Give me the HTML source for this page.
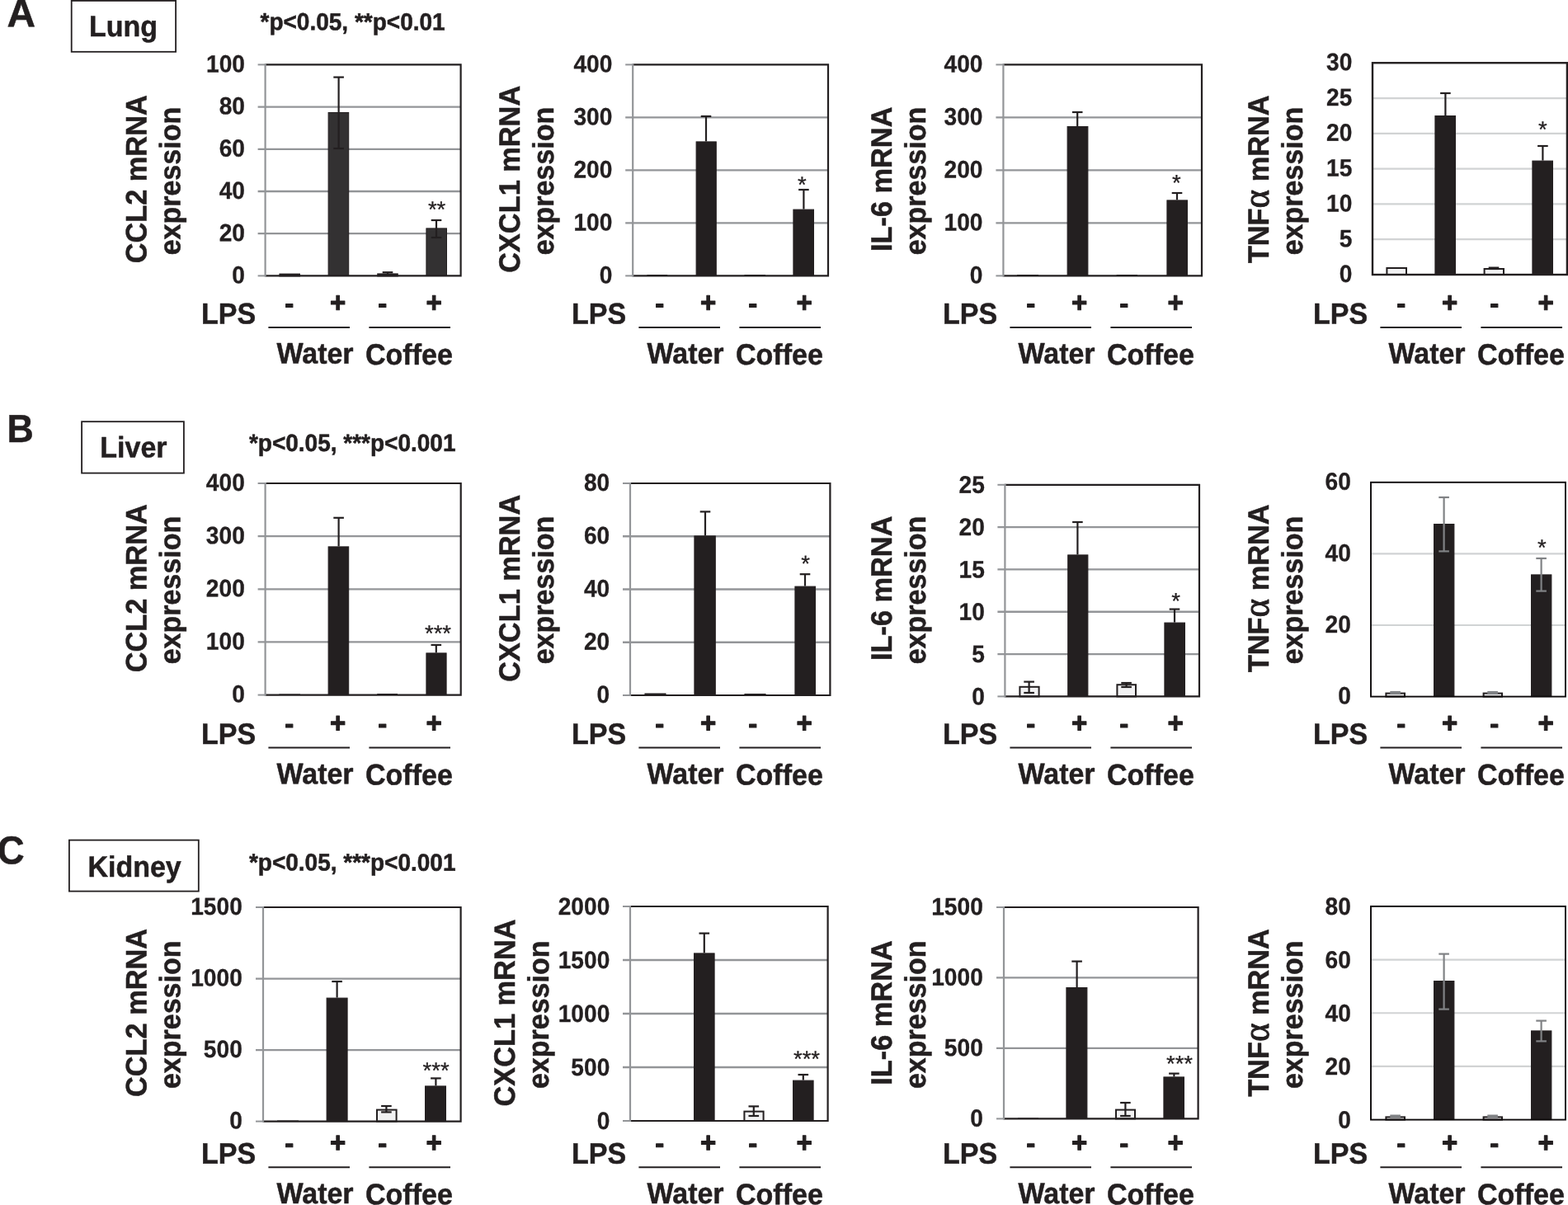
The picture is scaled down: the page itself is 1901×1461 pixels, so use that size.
<!DOCTYPE html>
<html lang="en"><head><meta charset="utf-8"><title>Figure</title>
<style>html,body{margin:0;padding:0;background:#fff;}svg{display:block;}text{font-family:"Liberation Sans",sans-serif;font-weight:bold;fill:#231f20;stroke:#231f20;stroke-width:0.5px;stroke-linejoin:round;}text{text-rendering:geometricPrecision;}text.n{stroke-width:0.3px;font-weight:normal;}text.tk{stroke-width:0.3px;}text.pm{stroke-width:1px;}.al{font-family:"Liberation Serif",serif;font-weight:normal;stroke-width:1px;}</style>
</head><body>
<svg width="1901" height="1461" viewBox="0 0 1901 1461" role="img" aria-label="Bar charts of cytokine mRNA expression in lung, liver and kidney">
<rect x="0" y="0" width="1901" height="1461" fill="#fff"/>
<text transform="translate(8.6 32.2) rotate(0.03) scale(1.05 1.05)" font-size="45.5">A</text>
<text transform="translate(8.6 536) rotate(0.03) scale(0.98 1.05)" font-size="45.5">B</text>
<text transform="translate(-3.2 1047.3) rotate(0.03) scale(1 1.05)" font-size="45.5">C</text>
<rect x="86.7" y="0.9" width="126.4" height="61.9" fill="#fff" stroke="#231f20" stroke-width="1.8"/>
<text transform="translate(149.6 43.9) rotate(0.03) scale(1 1.05)" font-size="34" text-anchor="middle">Lung</text>
<rect x="99.1" y="511.2" width="123.8" height="62.4" fill="#fff" stroke="#231f20" stroke-width="1.8"/>
<text transform="translate(161.9 554.5) rotate(0.03) scale(1 1.05)" font-size="34" text-anchor="middle">Liver</text>
<rect x="83.9" y="1018.6" width="156.9" height="62" fill="#fff" stroke="#231f20" stroke-width="1.8"/>
<text transform="translate(163.1 1063) rotate(0.03) scale(1 1.05)" font-size="34" text-anchor="middle">Kidney</text>
<text transform="translate(427.6 36.4) rotate(0.03) scale(1 1.05)" font-size="28" text-anchor="middle">*p&lt;0.05, **p&lt;0.01</text>
<text transform="translate(427.2 547) rotate(0.03) scale(1 1.05)" font-size="28" text-anchor="middle">*p&lt;0.05, ***p&lt;0.001</text>
<text transform="translate(427.2 1055.6) rotate(0.03) scale(1 1.05)" font-size="28" text-anchor="middle">*p&lt;0.05, ***p&lt;0.001</text>
<g id="A1">
<line x1="312.6" y1="283.2" x2="558.6" y2="283.2" stroke="#939598" stroke-width="2.3"/>
<line x1="312.6" y1="232" x2="558.6" y2="232" stroke="#939598" stroke-width="2.3"/>
<line x1="312.6" y1="180.8" x2="558.6" y2="180.8" stroke="#939598" stroke-width="2.3"/>
<line x1="312.6" y1="129.6" x2="558.6" y2="129.6" stroke="#939598" stroke-width="2.3"/>
<rect x="339.4" y="332.6" width="23.6" height="1.8" fill="#f1f1f2" stroke="#231f20" stroke-width="2"/>
<rect x="398.1" y="136.5" width="24.6" height="197.9" fill="#333132" stroke="#231f20" stroke-width="1"/>
<rect x="458.2" y="332.4" width="23.6" height="2" fill="#f1f1f2" stroke="#231f20" stroke-width="2"/>
<rect x="516.9" y="276.9" width="24.6" height="57.5" fill="#333132" stroke="#231f20" stroke-width="1"/>
<polyline points="321.6,78.4 558.6,78.4 558.6,334.4 321.6,334.4" fill="none" stroke="#231f20" stroke-width="2.2"/>
<line x1="321.6" y1="77.3" x2="321.6" y2="335.5" stroke="#939598" stroke-width="2.2"/>
<line x1="312.6" y1="78.4" x2="322.6" y2="78.4" stroke="#939598" stroke-width="2"/>
<line x1="312.6" y1="334.4" x2="321.6" y2="334.4" stroke="#939598" stroke-width="2"/>
<line x1="410.6" y1="93.6" x2="410.6" y2="180" stroke="#231f20" stroke-width="2.2"/>
<line x1="404.3" y1="93.6" x2="416.9" y2="93.6" stroke="#231f20" stroke-width="2.2"/>
<line x1="404.3" y1="180" x2="416.9" y2="180" stroke="#231f20" stroke-width="2.2"/>
<line x1="529" y1="267" x2="529" y2="288" stroke="#231f20" stroke-width="2.2"/>
<line x1="522.7" y1="267" x2="535.3" y2="267" stroke="#231f20" stroke-width="2.2"/>
<line x1="522.7" y1="288" x2="535.3" y2="288" stroke="#231f20" stroke-width="2.2"/>
<line x1="470" y1="330.2" x2="470" y2="333" stroke="#231f20" stroke-width="2.2"/>
<line x1="463.7" y1="330.2" x2="476.3" y2="330.2" stroke="#231f20" stroke-width="2.2"/>
<line x1="463.7" y1="333" x2="476.3" y2="333" stroke="#231f20" stroke-width="2.2"/>
<text transform="translate(297 343.4) rotate(0.03) scale(0.97 1.02)" font-size="29" text-anchor="end" class="tk">0</text>
<text transform="translate(297 292.2) rotate(0.03) scale(0.97 1.02)" font-size="29" text-anchor="end" class="tk">20</text>
<text transform="translate(297 241) rotate(0.03) scale(0.97 1.02)" font-size="29" text-anchor="end" class="tk">40</text>
<text transform="translate(297 189.8) rotate(0.03) scale(0.97 1.02)" font-size="29" text-anchor="end" class="tk">60</text>
<text transform="translate(297 138.6) rotate(0.03) scale(0.97 1.02)" font-size="29" text-anchor="end" class="tk">80</text>
<text transform="translate(297 87.4) rotate(0.03) scale(0.97 1.02)" font-size="29" text-anchor="end" class="tk">100</text>
<text transform="translate(529.6 263.3) rotate(0.03)" font-size="27.5" text-anchor="middle" font-weight="normal" class="n">**</text>
<text transform="translate(177.5 217.3) rotate(-89.97) scale(1.01 1.05)" font-size="34" text-anchor="middle">CCL2 mRNA</text>
<text transform="translate(218.5 219.6) rotate(-89.97) scale(1 1.05)" font-size="34" text-anchor="middle">expression</text>
<text transform="translate(244.1 392.4) rotate(0.03) scale(1 1.05)" font-size="34">LPS</text>
<text transform="translate(345.3 379.5) rotate(0.03) scale(1 1.05)" font-size="33" class="pm">-</text>
<text transform="translate(399.9 378.6) rotate(0.03) scale(1 1.05)" font-size="33" class="pm">+</text>
<text transform="translate(458.3 379.5) rotate(0.03) scale(1 1.05)" font-size="33" class="pm">-</text>
<text transform="translate(516.5 378.6) rotate(0.03) scale(1 1.05)" font-size="33" class="pm">+</text>
<line x1="325.4" y1="397" x2="424" y2="397" stroke="#231f20" stroke-width="2"/>
<line x1="447.4" y1="397" x2="546" y2="397" stroke="#231f20" stroke-width="2"/>
<text transform="translate(335.4 440.6) rotate(0.03) scale(1 1.05)" font-size="34">Water</text>
<text transform="translate(443 442) rotate(0.03) scale(1 1.05)" font-size="34">Coffee</text>
</g>
<g id="A2">
<line x1="758.2" y1="270.4" x2="1004" y2="270.4" stroke="#939598" stroke-width="2.3"/>
<line x1="758.2" y1="206.4" x2="1004" y2="206.4" stroke="#939598" stroke-width="2.3"/>
<line x1="758.2" y1="142.4" x2="1004" y2="142.4" stroke="#939598" stroke-width="2.3"/>
<rect x="784.4" y="333" width="24.8" height="1.4" fill="#231f20"/>
<rect x="844.1" y="171.9" width="24.2" height="162.5" fill="#231f20" stroke="#231f20" stroke-width="1"/>
<rect x="902.4" y="333" width="25.6" height="1.4" fill="#231f20"/>
<rect x="961.9" y="254.1" width="24.6" height="80.3" fill="#231f20" stroke="#231f20" stroke-width="1"/>
<polyline points="767.2,78.4 1004,78.4 1004,334.4 767.2,334.4" fill="none" stroke="#231f20" stroke-width="2.2"/>
<line x1="767.2" y1="77.3" x2="767.2" y2="335.5" stroke="#939598" stroke-width="2.2"/>
<line x1="758.2" y1="78.4" x2="768.2" y2="78.4" stroke="#939598" stroke-width="2"/>
<line x1="758.2" y1="334.4" x2="767.2" y2="334.4" stroke="#939598" stroke-width="2"/>
<line x1="856" y1="141" x2="856" y2="171.4" stroke="#231f20" stroke-width="2.2"/>
<line x1="849.7" y1="141" x2="862.3" y2="141" stroke="#231f20" stroke-width="2.2"/>
<line x1="974.4" y1="230" x2="974.4" y2="253.6" stroke="#231f20" stroke-width="2.2"/>
<line x1="968.1" y1="230" x2="980.7" y2="230" stroke="#231f20" stroke-width="2.2"/>
<text transform="translate(742.4 343.4) rotate(0.03) scale(0.97 1.02)" font-size="29" text-anchor="end" class="tk">0</text>
<text transform="translate(742.4 279.4) rotate(0.03) scale(0.97 1.02)" font-size="29" text-anchor="end" class="tk">100</text>
<text transform="translate(742.4 215.4) rotate(0.03) scale(0.97 1.02)" font-size="29" text-anchor="end" class="tk">200</text>
<text transform="translate(742.4 151.4) rotate(0.03) scale(0.97 1.02)" font-size="29" text-anchor="end" class="tk">300</text>
<text transform="translate(742.4 87.4) rotate(0.03) scale(0.97 1.02)" font-size="29" text-anchor="end" class="tk">400</text>
<text transform="translate(972.4 233.3) rotate(0.03)" font-size="27.5" text-anchor="middle" font-weight="normal" class="n">*</text>
<text transform="translate(630 217.3) rotate(-89.97) scale(1.01 1.05)" font-size="34" text-anchor="middle">CXCL1 mRNA</text>
<text transform="translate(671 219.6) rotate(-89.97) scale(1 1.05)" font-size="34" text-anchor="middle">expression</text>
<text transform="translate(693.1 392.4) rotate(0.03) scale(1 1.05)" font-size="34">LPS</text>
<text transform="translate(794.3 379.5) rotate(0.03) scale(1 1.05)" font-size="33" class="pm">-</text>
<text transform="translate(848.9 378.6) rotate(0.03) scale(1 1.05)" font-size="33" class="pm">+</text>
<text transform="translate(907.3 379.5) rotate(0.03) scale(1 1.05)" font-size="33" class="pm">-</text>
<text transform="translate(965.5 378.6) rotate(0.03) scale(1 1.05)" font-size="33" class="pm">+</text>
<line x1="774.4" y1="397" x2="873" y2="397" stroke="#231f20" stroke-width="2"/>
<line x1="896.4" y1="397" x2="995" y2="397" stroke="#231f20" stroke-width="2"/>
<text transform="translate(784.4 440.6) rotate(0.03) scale(1 1.05)" font-size="34">Water</text>
<text transform="translate(892 442) rotate(0.03) scale(1 1.05)" font-size="34">Coffee</text>
</g>
<g id="A3">
<line x1="1207.4" y1="270.4" x2="1457" y2="270.4" stroke="#939598" stroke-width="2.3"/>
<line x1="1207.4" y1="206.4" x2="1457" y2="206.4" stroke="#939598" stroke-width="2.3"/>
<line x1="1207.4" y1="142.4" x2="1457" y2="142.4" stroke="#939598" stroke-width="2.3"/>
<rect x="1233" y="333" width="26" height="1.4" fill="#231f20"/>
<rect x="1294.1" y="153.5" width="24.8" height="180.9" fill="#231f20" stroke="#231f20" stroke-width="1"/>
<rect x="1353.6" y="333" width="25.4" height="1.4" fill="#231f20"/>
<rect x="1414.9" y="242.9" width="24.6" height="91.5" fill="#231f20" stroke="#231f20" stroke-width="1"/>
<polyline points="1216.4,78.4 1457,78.4 1457,334.4 1216.4,334.4" fill="none" stroke="#231f20" stroke-width="2.2"/>
<line x1="1216.4" y1="77.3" x2="1216.4" y2="335.5" stroke="#939598" stroke-width="2.2"/>
<line x1="1207.4" y1="78.4" x2="1217.4" y2="78.4" stroke="#939598" stroke-width="2"/>
<line x1="1207.4" y1="334.4" x2="1216.4" y2="334.4" stroke="#939598" stroke-width="2"/>
<line x1="1306.2" y1="136" x2="1306.2" y2="153" stroke="#231f20" stroke-width="2.2"/>
<line x1="1299.9" y1="136" x2="1312.5" y2="136" stroke="#231f20" stroke-width="2.2"/>
<line x1="1427" y1="234" x2="1427" y2="242.4" stroke="#231f20" stroke-width="2.2"/>
<line x1="1420.7" y1="234" x2="1433.3" y2="234" stroke="#231f20" stroke-width="2.2"/>
<text transform="translate(1191.5 343.4) rotate(0.03) scale(0.97 1.02)" font-size="29" text-anchor="end" class="tk">0</text>
<text transform="translate(1191.5 279.4) rotate(0.03) scale(0.97 1.02)" font-size="29" text-anchor="end" class="tk">100</text>
<text transform="translate(1191.5 215.4) rotate(0.03) scale(0.97 1.02)" font-size="29" text-anchor="end" class="tk">200</text>
<text transform="translate(1191.5 151.4) rotate(0.03) scale(0.97 1.02)" font-size="29" text-anchor="end" class="tk">300</text>
<text transform="translate(1191.5 87.4) rotate(0.03) scale(0.97 1.02)" font-size="29" text-anchor="end" class="tk">400</text>
<text transform="translate(1426.4 231) rotate(0.03)" font-size="27.5" text-anchor="middle" font-weight="normal" class="n">*</text>
<text transform="translate(1081 217.3) rotate(-89.97) scale(1.01 1.05)" font-size="34" text-anchor="middle">IL-6 mRNA</text>
<text transform="translate(1122 219.6) rotate(-89.97) scale(1 1.05)" font-size="34" text-anchor="middle">expression</text>
<text transform="translate(1143.1 392.4) rotate(0.03) scale(1 1.05)" font-size="34">LPS</text>
<text transform="translate(1244.3 379.5) rotate(0.03) scale(1 1.05)" font-size="33" class="pm">-</text>
<text transform="translate(1298.9 378.6) rotate(0.03) scale(1 1.05)" font-size="33" class="pm">+</text>
<text transform="translate(1357.3 379.5) rotate(0.03) scale(1 1.05)" font-size="33" class="pm">-</text>
<text transform="translate(1415.5 378.6) rotate(0.03) scale(1 1.05)" font-size="33" class="pm">+</text>
<line x1="1224.4" y1="397" x2="1323" y2="397" stroke="#231f20" stroke-width="2"/>
<line x1="1346.4" y1="397" x2="1445" y2="397" stroke="#231f20" stroke-width="2"/>
<text transform="translate(1234.4 440.6) rotate(0.03) scale(1 1.05)" font-size="34">Water</text>
<text transform="translate(1342 442) rotate(0.03) scale(1 1.05)" font-size="34">Coffee</text>
</g>
<g id="A4">
<line x1="1664" y1="290.21" x2="1899.9" y2="290.21" stroke="#d1d3d4" stroke-width="2.2"/>
<line x1="1664" y1="247.42" x2="1899.9" y2="247.42" stroke="#d1d3d4" stroke-width="2.2"/>
<line x1="1664" y1="204.62" x2="1899.9" y2="204.62" stroke="#d1d3d4" stroke-width="2.2"/>
<line x1="1664" y1="161.83" x2="1899.9" y2="161.83" stroke="#d1d3d4" stroke-width="2.2"/>
<line x1="1664" y1="119.04" x2="1899.9" y2="119.04" stroke="#d1d3d4" stroke-width="2.2"/>
<rect x="1681.4" y="325" width="23.6" height="8" fill="#f1f1f2" stroke="#231f20" stroke-width="2"/>
<rect x="1739.9" y="140.5" width="24.6" height="192.5" fill="#231f20" stroke="#231f20" stroke-width="1"/>
<rect x="1799.6" y="326" width="23.4" height="7" fill="#f1f1f2" stroke="#231f20" stroke-width="2"/>
<rect x="1857.9" y="195.1" width="24.6" height="137.9" fill="#231f20" stroke="#231f20" stroke-width="1"/>
<rect x="1664" y="76.25" width="235.9" height="256.75" fill="none" stroke="#231f20" stroke-width="2.4"/>
<line x1="1752.4" y1="113" x2="1752.4" y2="140" stroke="#231f20" stroke-width="2.2"/>
<line x1="1746.1" y1="113" x2="1758.7" y2="113" stroke="#231f20" stroke-width="2.2"/>
<line x1="1870.4" y1="177" x2="1870.4" y2="194.6" stroke="#231f20" stroke-width="2.2"/>
<line x1="1864.1" y1="177" x2="1876.7" y2="177" stroke="#231f20" stroke-width="2.2"/>
<line x1="1811" y1="324.6" x2="1811" y2="326" stroke="#231f20" stroke-width="2.2"/>
<line x1="1804.7" y1="324.6" x2="1817.3" y2="324.6" stroke="#231f20" stroke-width="2.2"/>
<line x1="1804.7" y1="326" x2="1817.3" y2="326" stroke="#231f20" stroke-width="2.2"/>
<text transform="translate(1639.4 342) rotate(0.03) scale(0.97 1.02)" font-size="29" text-anchor="end" class="tk">0</text>
<text transform="translate(1639.4 299.21) rotate(0.03) scale(0.97 1.02)" font-size="29" text-anchor="end" class="tk">5</text>
<text transform="translate(1639.4 256.42) rotate(0.03) scale(0.97 1.02)" font-size="29" text-anchor="end" class="tk">10</text>
<text transform="translate(1639.4 213.62) rotate(0.03) scale(0.97 1.02)" font-size="29" text-anchor="end" class="tk">15</text>
<text transform="translate(1639.4 170.83) rotate(0.03) scale(0.97 1.02)" font-size="29" text-anchor="end" class="tk">20</text>
<text transform="translate(1639.4 128.04) rotate(0.03) scale(0.97 1.02)" font-size="29" text-anchor="end" class="tk">25</text>
<text transform="translate(1639.4 85.25) rotate(0.03) scale(0.97 1.02)" font-size="29" text-anchor="end" class="tk">30</text>
<text transform="translate(1870.4 166.3) rotate(0.03)" font-size="27.5" text-anchor="middle" font-weight="normal" class="n">*</text>
<text transform="translate(1538 217.3) rotate(-89.97) scale(1.01 1.05)" font-size="34" text-anchor="middle">TNF<tspan class="al" font-size="42.5">α</tspan> mRNA</text>
<text transform="translate(1579 219.6) rotate(-89.97) scale(1 1.05)" font-size="34" text-anchor="middle">expression</text>
<text transform="translate(1592.1 392.4) rotate(0.03) scale(1 1.05)" font-size="34">LPS</text>
<text transform="translate(1693.3 379.5) rotate(0.03) scale(1 1.05)" font-size="33" class="pm">-</text>
<text transform="translate(1747.9 378.6) rotate(0.03) scale(1 1.05)" font-size="33" class="pm">+</text>
<text transform="translate(1806.3 379.5) rotate(0.03) scale(1 1.05)" font-size="33" class="pm">-</text>
<text transform="translate(1864.5 378.6) rotate(0.03) scale(1 1.05)" font-size="33" class="pm">+</text>
<line x1="1673.4" y1="397" x2="1772" y2="397" stroke="#231f20" stroke-width="2"/>
<line x1="1795.4" y1="397" x2="1894" y2="397" stroke="#231f20" stroke-width="2"/>
<text transform="translate(1683.4 440.6) rotate(0.03) scale(1 1.05)" font-size="34">Water</text>
<text transform="translate(1791 442) rotate(0.03) scale(1 1.05)" font-size="34">Coffee</text>
</g>
<g id="B1">
<line x1="312.6" y1="778.45" x2="558.7" y2="778.45" stroke="#939598" stroke-width="2.3"/>
<line x1="312.6" y1="714.3" x2="558.7" y2="714.3" stroke="#939598" stroke-width="2.3"/>
<line x1="312.6" y1="650.15" x2="558.7" y2="650.15" stroke="#939598" stroke-width="2.3"/>
<rect x="338.4" y="841.5" width="25.6" height="1.1" fill="#231f20"/>
<rect x="398.1" y="662.9" width="24.6" height="179.7" fill="#231f20" stroke="#231f20" stroke-width="1"/>
<rect x="457.2" y="841" width="24.8" height="1.6" fill="#231f20"/>
<rect x="516.9" y="791.9" width="24.2" height="50.7" fill="#231f20" stroke="#231f20" stroke-width="1"/>
<polyline points="321.6,586 558.7,586 558.7,842.6 321.6,842.6" fill="none" stroke="#231f20" stroke-width="2.2"/>
<line x1="321.6" y1="584.9" x2="321.6" y2="843.7" stroke="#939598" stroke-width="2.2"/>
<line x1="312.6" y1="586" x2="322.6" y2="586" stroke="#939598" stroke-width="2"/>
<line x1="312.6" y1="842.6" x2="321.6" y2="842.6" stroke="#939598" stroke-width="2"/>
<line x1="410.6" y1="627.8" x2="410.6" y2="662.4" stroke="#231f20" stroke-width="2.2"/>
<line x1="404.3" y1="627.8" x2="416.9" y2="627.8" stroke="#231f20" stroke-width="2.2"/>
<line x1="528.8" y1="782" x2="528.8" y2="791.4" stroke="#231f20" stroke-width="2.2"/>
<line x1="522.5" y1="782" x2="535.1" y2="782" stroke="#231f20" stroke-width="2.2"/>
<text transform="translate(296.8 851.6) rotate(0.03) scale(0.97 1.02)" font-size="29" text-anchor="end" class="tk">0</text>
<text transform="translate(296.8 787.45) rotate(0.03) scale(0.97 1.02)" font-size="29" text-anchor="end" class="tk">100</text>
<text transform="translate(296.8 723.3) rotate(0.03) scale(0.97 1.02)" font-size="29" text-anchor="end" class="tk">200</text>
<text transform="translate(296.8 659.15) rotate(0.03) scale(0.97 1.02)" font-size="29" text-anchor="end" class="tk">300</text>
<text transform="translate(296.8 595) rotate(0.03) scale(0.97 1.02)" font-size="29" text-anchor="end" class="tk">400</text>
<text transform="translate(531 777.3) rotate(0.03)" font-size="27.5" text-anchor="middle" font-weight="normal" class="n">***</text>
<text transform="translate(177.5 713.3) rotate(-89.97) scale(1.01 1.05)" font-size="34" text-anchor="middle">CCL2 mRNA</text>
<text transform="translate(218.5 715.6) rotate(-89.97) scale(1 1.05)" font-size="34" text-anchor="middle">expression</text>
<text transform="translate(244.1 902) rotate(0.03) scale(1 1.05)" font-size="34">LPS</text>
<text transform="translate(345.3 889.1) rotate(0.03) scale(1 1.05)" font-size="33" class="pm">-</text>
<text transform="translate(399.9 888.2) rotate(0.03) scale(1 1.05)" font-size="33" class="pm">+</text>
<text transform="translate(458.3 889.1) rotate(0.03) scale(1 1.05)" font-size="33" class="pm">-</text>
<text transform="translate(516.5 888.2) rotate(0.03) scale(1 1.05)" font-size="33" class="pm">+</text>
<line x1="325.4" y1="906.6" x2="424" y2="906.6" stroke="#231f20" stroke-width="2"/>
<line x1="447.4" y1="906.6" x2="546" y2="906.6" stroke="#231f20" stroke-width="2"/>
<text transform="translate(335.4 950.2) rotate(0.03) scale(1 1.05)" font-size="34">Water</text>
<text transform="translate(443 951.6) rotate(0.03) scale(1 1.05)" font-size="34">Coffee</text>
</g>
<g id="B2">
<line x1="755" y1="778.75" x2="1006.4" y2="778.75" stroke="#939598" stroke-width="2.3"/>
<line x1="755" y1="714.5" x2="1006.4" y2="714.5" stroke="#939598" stroke-width="2.3"/>
<line x1="755" y1="650.25" x2="1006.4" y2="650.25" stroke="#939598" stroke-width="2.3"/>
<rect x="781.4" y="840.5" width="26.2" height="2.5" fill="#231f20"/>
<rect x="841.9" y="649.9" width="25.4" height="193.1" fill="#231f20" stroke="#231f20" stroke-width="1"/>
<rect x="902.4" y="841" width="26.2" height="2" fill="#231f20"/>
<rect x="963.9" y="711.1" width="24.6" height="131.9" fill="#231f20" stroke="#231f20" stroke-width="1"/>
<polyline points="764,586 1006.4,586 1006.4,843 764,843" fill="none" stroke="#231f20" stroke-width="2.2"/>
<line x1="764" y1="584.9" x2="764" y2="844.1" stroke="#939598" stroke-width="2.2"/>
<line x1="755" y1="586" x2="765" y2="586" stroke="#939598" stroke-width="2"/>
<line x1="755" y1="843" x2="764" y2="843" stroke="#939598" stroke-width="2"/>
<line x1="855" y1="620.4" x2="855" y2="649.4" stroke="#231f20" stroke-width="2.2"/>
<line x1="848.7" y1="620.4" x2="861.3" y2="620.4" stroke="#231f20" stroke-width="2.2"/>
<line x1="976" y1="696.2" x2="976" y2="710.6" stroke="#231f20" stroke-width="2.2"/>
<line x1="969.7" y1="696.2" x2="982.3" y2="696.2" stroke="#231f20" stroke-width="2.2"/>
<text transform="translate(739.2 852) rotate(0.03) scale(0.97 1.02)" font-size="29" text-anchor="end" class="tk">0</text>
<text transform="translate(739.2 787.75) rotate(0.03) scale(0.97 1.02)" font-size="29" text-anchor="end" class="tk">20</text>
<text transform="translate(739.2 723.5) rotate(0.03) scale(0.97 1.02)" font-size="29" text-anchor="end" class="tk">40</text>
<text transform="translate(739.2 659.25) rotate(0.03) scale(0.97 1.02)" font-size="29" text-anchor="end" class="tk">60</text>
<text transform="translate(739.2 595) rotate(0.03) scale(0.97 1.02)" font-size="29" text-anchor="end" class="tk">80</text>
<text transform="translate(976.6 692.7) rotate(0.03)" font-size="27.5" text-anchor="middle" font-weight="normal" class="n">*</text>
<text transform="translate(630 713.3) rotate(-89.97) scale(1.01 1.05)" font-size="34" text-anchor="middle">CXCL1 mRNA</text>
<text transform="translate(671 715.6) rotate(-89.97) scale(1 1.05)" font-size="34" text-anchor="middle">expression</text>
<text transform="translate(693.1 902) rotate(0.03) scale(1 1.05)" font-size="34">LPS</text>
<text transform="translate(794.3 889.1) rotate(0.03) scale(1 1.05)" font-size="33" class="pm">-</text>
<text transform="translate(848.9 888.2) rotate(0.03) scale(1 1.05)" font-size="33" class="pm">+</text>
<text transform="translate(907.3 889.1) rotate(0.03) scale(1 1.05)" font-size="33" class="pm">-</text>
<text transform="translate(965.5 888.2) rotate(0.03) scale(1 1.05)" font-size="33" class="pm">+</text>
<line x1="774.4" y1="906.6" x2="873" y2="906.6" stroke="#231f20" stroke-width="2"/>
<line x1="896.4" y1="906.6" x2="995" y2="906.6" stroke="#231f20" stroke-width="2"/>
<text transform="translate(784.4 950.2) rotate(0.03) scale(1 1.05)" font-size="34">Water</text>
<text transform="translate(892 951.6) rotate(0.03) scale(1 1.05)" font-size="34">Coffee</text>
</g>
<g id="B3">
<line x1="1209.4" y1="793.08" x2="1454" y2="793.08" stroke="#939598" stroke-width="2.3"/>
<line x1="1209.4" y1="741.76" x2="1454" y2="741.76" stroke="#939598" stroke-width="2.3"/>
<line x1="1209.4" y1="690.44" x2="1454" y2="690.44" stroke="#939598" stroke-width="2.3"/>
<line x1="1209.4" y1="639.12" x2="1454" y2="639.12" stroke="#939598" stroke-width="2.3"/>
<rect x="1236.4" y="832.8" width="23.2" height="11.6" fill="#f1f1f2" stroke="#231f20" stroke-width="2"/>
<rect x="1294.7" y="672.9" width="24.2" height="171.5" fill="#231f20" stroke="#231f20" stroke-width="1"/>
<rect x="1354.4" y="830.2" width="22.6" height="14.2" fill="#f1f1f2" stroke="#231f20" stroke-width="2"/>
<rect x="1411.9" y="755.1" width="24.6" height="89.3" fill="#231f20" stroke="#231f20" stroke-width="1"/>
<polyline points="1218.4,587.8 1454,587.8 1454,844.4 1218.4,844.4" fill="none" stroke="#231f20" stroke-width="2.2"/>
<line x1="1218.4" y1="586.7" x2="1218.4" y2="845.5" stroke="#939598" stroke-width="2.2"/>
<line x1="1209.4" y1="587.8" x2="1219.4" y2="587.8" stroke="#939598" stroke-width="2"/>
<line x1="1209.4" y1="844.4" x2="1218.4" y2="844.4" stroke="#939598" stroke-width="2"/>
<line x1="1247.6" y1="826.6" x2="1247.6" y2="840" stroke="#231f20" stroke-width="2.2"/>
<line x1="1241.3" y1="826.6" x2="1253.9" y2="826.6" stroke="#231f20" stroke-width="2.2"/>
<line x1="1241.3" y1="840" x2="1253.9" y2="840" stroke="#231f20" stroke-width="2.2"/>
<line x1="1306.4" y1="633" x2="1306.4" y2="672.4" stroke="#231f20" stroke-width="2.2"/>
<line x1="1300.1" y1="633" x2="1312.7" y2="633" stroke="#231f20" stroke-width="2.2"/>
<line x1="1365.6" y1="828" x2="1365.6" y2="833" stroke="#231f20" stroke-width="2.2"/>
<line x1="1359.3" y1="828" x2="1371.9" y2="828" stroke="#231f20" stroke-width="2.2"/>
<line x1="1359.3" y1="833" x2="1371.9" y2="833" stroke="#231f20" stroke-width="2.2"/>
<line x1="1424" y1="738.6" x2="1424" y2="754.6" stroke="#231f20" stroke-width="2.2"/>
<line x1="1417.7" y1="738.6" x2="1430.3" y2="738.6" stroke="#231f20" stroke-width="2.2"/>
<text transform="translate(1193.8 854.4) rotate(0.03) scale(0.97 1.02)" font-size="29" text-anchor="end" class="tk">0</text>
<text transform="translate(1193.8 803.08) rotate(0.03) scale(0.97 1.02)" font-size="29" text-anchor="end" class="tk">5</text>
<text transform="translate(1193.8 751.76) rotate(0.03) scale(0.97 1.02)" font-size="29" text-anchor="end" class="tk">10</text>
<text transform="translate(1193.8 700.44) rotate(0.03) scale(0.97 1.02)" font-size="29" text-anchor="end" class="tk">15</text>
<text transform="translate(1193.8 649.12) rotate(0.03) scale(0.97 1.02)" font-size="29" text-anchor="end" class="tk">20</text>
<text transform="translate(1193.8 597.8) rotate(0.03) scale(0.97 1.02)" font-size="29" text-anchor="end" class="tk">25</text>
<text transform="translate(1425.6 738) rotate(0.03)" font-size="27.5" text-anchor="middle" font-weight="normal" class="n">*</text>
<text transform="translate(1081 713.3) rotate(-89.97) scale(1.01 1.05)" font-size="34" text-anchor="middle">IL-6 mRNA</text>
<text transform="translate(1122 715.6) rotate(-89.97) scale(1 1.05)" font-size="34" text-anchor="middle">expression</text>
<text transform="translate(1143.1 902) rotate(0.03) scale(1 1.05)" font-size="34">LPS</text>
<text transform="translate(1244.3 889.1) rotate(0.03) scale(1 1.05)" font-size="33" class="pm">-</text>
<text transform="translate(1298.9 888.2) rotate(0.03) scale(1 1.05)" font-size="33" class="pm">+</text>
<text transform="translate(1357.3 889.1) rotate(0.03) scale(1 1.05)" font-size="33" class="pm">-</text>
<text transform="translate(1415.5 888.2) rotate(0.03) scale(1 1.05)" font-size="33" class="pm">+</text>
<line x1="1224.4" y1="906.6" x2="1323" y2="906.6" stroke="#231f20" stroke-width="2"/>
<line x1="1346.4" y1="906.6" x2="1445" y2="906.6" stroke="#231f20" stroke-width="2"/>
<text transform="translate(1234.4 950.2) rotate(0.03) scale(1 1.05)" font-size="34">Water</text>
<text transform="translate(1342 951.6) rotate(0.03) scale(1 1.05)" font-size="34">Coffee</text>
</g>
<g id="B4">
<line x1="1662" y1="758" x2="1897.95" y2="758" stroke="#d1d3d4" stroke-width="2.2"/>
<line x1="1662" y1="671.4" x2="1897.95" y2="671.4" stroke="#d1d3d4" stroke-width="2.2"/>
<rect x="1680.4" y="840.6" width="22.6" height="4" fill="#f1f1f2" stroke="#231f20" stroke-width="2"/>
<rect x="1738.5" y="635.5" width="24.4" height="209.1" fill="#231f20" stroke="#231f20" stroke-width="1"/>
<rect x="1798.6" y="840.6" width="22.4" height="4" fill="#f1f1f2" stroke="#231f20" stroke-width="2"/>
<rect x="1856.5" y="696.9" width="24.4" height="147.7" fill="#231f20" stroke="#231f20" stroke-width="1"/>
<rect x="1662" y="584.8" width="235.95" height="259.8" fill="none" stroke="#0d0a0b" stroke-width="1.9"/>
<line x1="1750.6" y1="603" x2="1750.6" y2="668.4" stroke="#808285" stroke-width="2.2"/>
<line x1="1744.3" y1="603" x2="1756.9" y2="603" stroke="#808285" stroke-width="2.2"/>
<line x1="1744.3" y1="668.4" x2="1756.9" y2="668.4" stroke="#808285" stroke-width="2.2"/>
<line x1="1868.6" y1="677" x2="1868.6" y2="716.6" stroke="#808285" stroke-width="2.2"/>
<line x1="1862.3" y1="677" x2="1874.9" y2="677" stroke="#808285" stroke-width="2.2"/>
<line x1="1862.3" y1="716.6" x2="1874.9" y2="716.6" stroke="#808285" stroke-width="2.2"/>
<line x1="1691.6" y1="839" x2="1691.6" y2="841" stroke="#808285" stroke-width="2.2"/>
<line x1="1685.3" y1="839" x2="1697.9" y2="839" stroke="#808285" stroke-width="2.2"/>
<line x1="1685.3" y1="841" x2="1697.9" y2="841" stroke="#808285" stroke-width="2.2"/>
<line x1="1809.6" y1="839" x2="1809.6" y2="841" stroke="#808285" stroke-width="2.2"/>
<line x1="1803.3" y1="839" x2="1815.9" y2="839" stroke="#808285" stroke-width="2.2"/>
<line x1="1803.3" y1="841" x2="1815.9" y2="841" stroke="#808285" stroke-width="2.2"/>
<text transform="translate(1637.8 853.6) rotate(0.03) scale(0.97 1.02)" font-size="29" text-anchor="end" class="tk">0</text>
<text transform="translate(1637.8 767) rotate(0.03) scale(0.97 1.02)" font-size="29" text-anchor="end" class="tk">20</text>
<text transform="translate(1637.8 680.4) rotate(0.03) scale(0.97 1.02)" font-size="29" text-anchor="end" class="tk">40</text>
<text transform="translate(1637.8 593.8) rotate(0.03) scale(0.97 1.02)" font-size="29" text-anchor="end" class="tk">60</text>
<text transform="translate(1869.4 673.3) rotate(0.03)" font-size="27.5" text-anchor="middle" font-weight="normal" class="n">*</text>
<text transform="translate(1538 713.3) rotate(-89.97) scale(1.01 1.05)" font-size="34" text-anchor="middle">TNF<tspan class="al" font-size="42.5">α</tspan> mRNA</text>
<text transform="translate(1579 715.6) rotate(-89.97) scale(1 1.05)" font-size="34" text-anchor="middle">expression</text>
<text transform="translate(1592.1 902) rotate(0.03) scale(1 1.05)" font-size="34">LPS</text>
<text transform="translate(1693.3 889.1) rotate(0.03) scale(1 1.05)" font-size="33" class="pm">-</text>
<text transform="translate(1747.9 888.2) rotate(0.03) scale(1 1.05)" font-size="33" class="pm">+</text>
<text transform="translate(1806.3 889.1) rotate(0.03) scale(1 1.05)" font-size="33" class="pm">-</text>
<text transform="translate(1864.5 888.2) rotate(0.03) scale(1 1.05)" font-size="33" class="pm">+</text>
<line x1="1673.4" y1="906.6" x2="1772" y2="906.6" stroke="#231f20" stroke-width="2"/>
<line x1="1795.4" y1="906.6" x2="1894" y2="906.6" stroke="#231f20" stroke-width="2"/>
<text transform="translate(1683.4 950.2) rotate(0.03) scale(1 1.05)" font-size="34">Water</text>
<text transform="translate(1791 951.6) rotate(0.03) scale(1 1.05)" font-size="34">Coffee</text>
</g>
<g id="C1">
<line x1="310" y1="1273.07" x2="558.6" y2="1273.07" stroke="#939598" stroke-width="2.3"/>
<line x1="310" y1="1186.53" x2="558.6" y2="1186.53" stroke="#939598" stroke-width="2.3"/>
<rect x="336" y="1358.5" width="26" height="1.1" fill="#231f20"/>
<rect x="396.1" y="1210.1" width="25" height="149.5" fill="#231f20" stroke="#231f20" stroke-width="1"/>
<rect x="457" y="1345.6" width="23.6" height="14" fill="#f1f1f2" stroke="#231f20" stroke-width="2"/>
<rect x="515.5" y="1316.9" width="25" height="42.7" fill="#231f20" stroke="#231f20" stroke-width="1"/>
<polyline points="319,1100 558.6,1100 558.6,1359.6 319,1359.6" fill="none" stroke="#231f20" stroke-width="2.2"/>
<line x1="319" y1="1098.9" x2="319" y2="1360.7" stroke="#939598" stroke-width="2.2"/>
<line x1="310" y1="1100" x2="320" y2="1100" stroke="#939598" stroke-width="2"/>
<line x1="310" y1="1359.6" x2="319" y2="1359.6" stroke="#939598" stroke-width="2"/>
<line x1="408.6" y1="1190" x2="408.6" y2="1209.6" stroke="#231f20" stroke-width="2.2"/>
<line x1="402.3" y1="1190" x2="414.9" y2="1190" stroke="#231f20" stroke-width="2.2"/>
<line x1="468.4" y1="1341" x2="468.4" y2="1348.4" stroke="#231f20" stroke-width="2.2"/>
<line x1="462.1" y1="1341" x2="474.7" y2="1341" stroke="#231f20" stroke-width="2.2"/>
<line x1="462.1" y1="1348.4" x2="474.7" y2="1348.4" stroke="#231f20" stroke-width="2.2"/>
<line x1="528.4" y1="1307.4" x2="528.4" y2="1316.4" stroke="#231f20" stroke-width="2.2"/>
<line x1="522.1" y1="1307.4" x2="534.7" y2="1307.4" stroke="#231f20" stroke-width="2.2"/>
<text transform="translate(293.8 1368.6) rotate(0.03) scale(0.97 1.02)" font-size="29" text-anchor="end" class="tk">0</text>
<text transform="translate(293.8 1282.07) rotate(0.03) scale(0.97 1.02)" font-size="29" text-anchor="end" class="tk">500</text>
<text transform="translate(293.8 1195.53) rotate(0.03) scale(0.97 1.02)" font-size="29" text-anchor="end" class="tk">1000</text>
<text transform="translate(293.8 1109) rotate(0.03) scale(0.97 1.02)" font-size="29" text-anchor="end" class="tk">1500</text>
<text transform="translate(528.6 1307.3) rotate(0.03)" font-size="27.5" text-anchor="middle" font-weight="normal" class="n">***</text>
<text transform="translate(177.5 1228) rotate(-89.97) scale(1.01 1.05)" font-size="34" text-anchor="middle">CCL2 mRNA</text>
<text transform="translate(218.5 1230.3) rotate(-89.97) scale(1 1.05)" font-size="34" text-anchor="middle">expression</text>
<text transform="translate(244.1 1410.7) rotate(0.03) scale(1 1.05)" font-size="34">LPS</text>
<text transform="translate(345.3 1397.8) rotate(0.03) scale(1 1.05)" font-size="33" class="pm">-</text>
<text transform="translate(399.9 1396.9) rotate(0.03) scale(1 1.05)" font-size="33" class="pm">+</text>
<text transform="translate(458.3 1397.8) rotate(0.03) scale(1 1.05)" font-size="33" class="pm">-</text>
<text transform="translate(516.5 1396.9) rotate(0.03) scale(1 1.05)" font-size="33" class="pm">+</text>
<line x1="325.4" y1="1415.3" x2="424" y2="1415.3" stroke="#231f20" stroke-width="2"/>
<line x1="447.4" y1="1415.3" x2="546" y2="1415.3" stroke="#231f20" stroke-width="2"/>
<text transform="translate(335.4 1458.9) rotate(0.03) scale(1 1.05)" font-size="34">Water</text>
<text transform="translate(443 1460.3) rotate(0.03) scale(1 1.05)" font-size="34">Coffee</text>
</g>
<g id="C2">
<line x1="755" y1="1294" x2="1003.6" y2="1294" stroke="#939598" stroke-width="2.3"/>
<line x1="755" y1="1229" x2="1003.6" y2="1229" stroke="#939598" stroke-width="2.3"/>
<line x1="755" y1="1164" x2="1003.6" y2="1164" stroke="#939598" stroke-width="2.3"/>
<rect x="781.4" y="1358" width="25.6" height="1" fill="#231f20"/>
<rect x="841.5" y="1155.9" width="24.6" height="203.1" fill="#231f20" stroke="#231f20" stroke-width="1"/>
<rect x="902.4" y="1347.6" width="23.2" height="11.4" fill="#f1f1f2" stroke="#231f20" stroke-width="2"/>
<rect x="961.5" y="1310.1" width="24.6" height="48.9" fill="#231f20" stroke="#231f20" stroke-width="1"/>
<polyline points="764,1099 1003.6,1099 1003.6,1359 764,1359" fill="none" stroke="#231f20" stroke-width="2.2"/>
<line x1="764" y1="1097.9" x2="764" y2="1360.1" stroke="#939598" stroke-width="2.2"/>
<line x1="755" y1="1099" x2="765" y2="1099" stroke="#939598" stroke-width="2"/>
<line x1="755" y1="1359" x2="764" y2="1359" stroke="#939598" stroke-width="2"/>
<line x1="853.8" y1="1131.6" x2="853.8" y2="1155.4" stroke="#231f20" stroke-width="2.2"/>
<line x1="847.5" y1="1131.6" x2="860.1" y2="1131.6" stroke="#231f20" stroke-width="2.2"/>
<line x1="913.8" y1="1341.4" x2="913.8" y2="1353" stroke="#231f20" stroke-width="2.2"/>
<line x1="907.5" y1="1341.4" x2="920.1" y2="1341.4" stroke="#231f20" stroke-width="2.2"/>
<line x1="907.5" y1="1353" x2="920.1" y2="1353" stroke="#231f20" stroke-width="2.2"/>
<line x1="973.8" y1="1303" x2="973.8" y2="1309.6" stroke="#231f20" stroke-width="2.2"/>
<line x1="967.5" y1="1303" x2="980.1" y2="1303" stroke="#231f20" stroke-width="2.2"/>
<text transform="translate(739.3 1369) rotate(0.03) scale(0.97 1.02)" font-size="29" text-anchor="end" class="tk">0</text>
<text transform="translate(739.3 1304) rotate(0.03) scale(0.97 1.02)" font-size="29" text-anchor="end" class="tk">500</text>
<text transform="translate(739.3 1239) rotate(0.03) scale(0.97 1.02)" font-size="29" text-anchor="end" class="tk">1000</text>
<text transform="translate(739.3 1174) rotate(0.03) scale(0.97 1.02)" font-size="29" text-anchor="end" class="tk">1500</text>
<text transform="translate(739.3 1109) rotate(0.03) scale(0.97 1.02)" font-size="29" text-anchor="end" class="tk">2000</text>
<text transform="translate(978 1293.3) rotate(0.03)" font-size="27.5" text-anchor="middle" font-weight="normal" class="n">***</text>
<text transform="translate(624.1 1228) rotate(-89.97) scale(1.01 1.05)" font-size="34" text-anchor="middle">CXCL1 mRNA</text>
<text transform="translate(665.1 1230.3) rotate(-89.97) scale(1 1.05)" font-size="34" text-anchor="middle">expression</text>
<text transform="translate(693.1 1410.7) rotate(0.03) scale(1 1.05)" font-size="34">LPS</text>
<text transform="translate(794.3 1397.8) rotate(0.03) scale(1 1.05)" font-size="33" class="pm">-</text>
<text transform="translate(848.9 1396.9) rotate(0.03) scale(1 1.05)" font-size="33" class="pm">+</text>
<text transform="translate(907.3 1397.8) rotate(0.03) scale(1 1.05)" font-size="33" class="pm">-</text>
<text transform="translate(965.5 1396.9) rotate(0.03) scale(1 1.05)" font-size="33" class="pm">+</text>
<line x1="774.4" y1="1415.3" x2="873" y2="1415.3" stroke="#231f20" stroke-width="2"/>
<line x1="896.4" y1="1415.3" x2="995" y2="1415.3" stroke="#231f20" stroke-width="2"/>
<text transform="translate(784.4 1458.9) rotate(0.03) scale(1 1.05)" font-size="34">Water</text>
<text transform="translate(892 1460.3) rotate(0.03) scale(1 1.05)" font-size="34">Coffee</text>
</g>
<g id="C3">
<line x1="1208" y1="1270.93" x2="1452.6" y2="1270.93" stroke="#939598" stroke-width="2.3"/>
<line x1="1208" y1="1185.47" x2="1452.6" y2="1185.47" stroke="#939598" stroke-width="2.3"/>
<rect x="1234" y="1355.5" width="25" height="0.9" fill="#231f20"/>
<rect x="1292.9" y="1197.5" width="25" height="158.9" fill="#231f20" stroke="#231f20" stroke-width="1"/>
<rect x="1353" y="1345.6" width="23" height="10.8" fill="#f1f1f2" stroke="#231f20" stroke-width="2"/>
<rect x="1410.9" y="1305.9" width="24.6" height="50.5" fill="#231f20" stroke="#231f20" stroke-width="1"/>
<polyline points="1217,1100 1452.6,1100 1452.6,1356.4 1217,1356.4" fill="none" stroke="#231f20" stroke-width="2.2"/>
<line x1="1217" y1="1098.9" x2="1217" y2="1357.5" stroke="#939598" stroke-width="2.2"/>
<line x1="1208" y1="1100" x2="1218" y2="1100" stroke="#939598" stroke-width="2"/>
<line x1="1208" y1="1356.4" x2="1217" y2="1356.4" stroke="#939598" stroke-width="2"/>
<line x1="1305.6" y1="1165.6" x2="1305.6" y2="1197" stroke="#231f20" stroke-width="2.2"/>
<line x1="1299.3" y1="1165.6" x2="1311.9" y2="1165.6" stroke="#231f20" stroke-width="2.2"/>
<line x1="1364.4" y1="1337" x2="1364.4" y2="1353" stroke="#231f20" stroke-width="2.2"/>
<line x1="1358.1" y1="1337" x2="1370.7" y2="1337" stroke="#231f20" stroke-width="2.2"/>
<line x1="1358.1" y1="1353" x2="1370.7" y2="1353" stroke="#231f20" stroke-width="2.2"/>
<line x1="1423.4" y1="1301.6" x2="1423.4" y2="1305.4" stroke="#231f20" stroke-width="2.2"/>
<line x1="1417.1" y1="1301.6" x2="1429.7" y2="1301.6" stroke="#231f20" stroke-width="2.2"/>
<text transform="translate(1191.8 1365.7) rotate(0.03) scale(0.97 1.02)" font-size="29" text-anchor="end" class="tk">0</text>
<text transform="translate(1191.8 1280.23) rotate(0.03) scale(0.97 1.02)" font-size="29" text-anchor="end" class="tk">500</text>
<text transform="translate(1191.8 1194.77) rotate(0.03) scale(0.97 1.02)" font-size="29" text-anchor="end" class="tk">1000</text>
<text transform="translate(1191.8 1109.3) rotate(0.03) scale(0.97 1.02)" font-size="29" text-anchor="end" class="tk">1500</text>
<text transform="translate(1430 1299) rotate(0.03)" font-size="27.5" text-anchor="middle" font-weight="normal" class="n">***</text>
<text transform="translate(1081 1228) rotate(-89.97) scale(1.01 1.05)" font-size="34" text-anchor="middle">IL-6 mRNA</text>
<text transform="translate(1122 1230.3) rotate(-89.97) scale(1 1.05)" font-size="34" text-anchor="middle">expression</text>
<text transform="translate(1143.1 1410.7) rotate(0.03) scale(1 1.05)" font-size="34">LPS</text>
<text transform="translate(1244.3 1397.8) rotate(0.03) scale(1 1.05)" font-size="33" class="pm">-</text>
<text transform="translate(1298.9 1396.9) rotate(0.03) scale(1 1.05)" font-size="33" class="pm">+</text>
<text transform="translate(1357.3 1397.8) rotate(0.03) scale(1 1.05)" font-size="33" class="pm">-</text>
<text transform="translate(1415.5 1396.9) rotate(0.03) scale(1 1.05)" font-size="33" class="pm">+</text>
<line x1="1224.4" y1="1415.3" x2="1323" y2="1415.3" stroke="#231f20" stroke-width="2"/>
<line x1="1346.4" y1="1415.3" x2="1445" y2="1415.3" stroke="#231f20" stroke-width="2"/>
<text transform="translate(1234.4 1458.9) rotate(0.03) scale(1 1.05)" font-size="34">Water</text>
<text transform="translate(1342 1460.3) rotate(0.03) scale(1 1.05)" font-size="34">Coffee</text>
</g>
<g id="C4">
<line x1="1662" y1="1292.92" x2="1897.95" y2="1292.92" stroke="#d1d3d4" stroke-width="2.2"/>
<line x1="1662" y1="1228.25" x2="1897.95" y2="1228.25" stroke="#d1d3d4" stroke-width="2.2"/>
<line x1="1662" y1="1163.58" x2="1897.95" y2="1163.58" stroke="#d1d3d4" stroke-width="2.2"/>
<rect x="1680.4" y="1354.4" width="22.6" height="3.2" fill="#f1f1f2" stroke="#231f20" stroke-width="2"/>
<rect x="1738.5" y="1189.5" width="24.4" height="168.1" fill="#231f20" stroke="#231f20" stroke-width="1"/>
<rect x="1798.6" y="1354.4" width="22.4" height="3.2" fill="#f1f1f2" stroke="#231f20" stroke-width="2"/>
<rect x="1856.5" y="1249.9" width="24.4" height="107.7" fill="#231f20" stroke="#231f20" stroke-width="1"/>
<rect x="1662" y="1098.9" width="235.95" height="258.7" fill="none" stroke="#0d0a0b" stroke-width="1.9"/>
<line x1="1750.6" y1="1156.6" x2="1750.6" y2="1223.6" stroke="#808285" stroke-width="2.2"/>
<line x1="1744.3" y1="1156.6" x2="1756.9" y2="1156.6" stroke="#808285" stroke-width="2.2"/>
<line x1="1744.3" y1="1223.6" x2="1756.9" y2="1223.6" stroke="#808285" stroke-width="2.2"/>
<line x1="1868.6" y1="1237.6" x2="1868.6" y2="1262.4" stroke="#808285" stroke-width="2.2"/>
<line x1="1862.3" y1="1237.6" x2="1874.9" y2="1237.6" stroke="#808285" stroke-width="2.2"/>
<line x1="1862.3" y1="1262.4" x2="1874.9" y2="1262.4" stroke="#808285" stroke-width="2.2"/>
<line x1="1691.6" y1="1352.6" x2="1691.6" y2="1354.6" stroke="#808285" stroke-width="2.2"/>
<line x1="1685.3" y1="1352.6" x2="1697.9" y2="1352.6" stroke="#808285" stroke-width="2.2"/>
<line x1="1685.3" y1="1354.6" x2="1697.9" y2="1354.6" stroke="#808285" stroke-width="2.2"/>
<line x1="1809.6" y1="1352.6" x2="1809.6" y2="1354.6" stroke="#808285" stroke-width="2.2"/>
<line x1="1803.3" y1="1352.6" x2="1815.9" y2="1352.6" stroke="#808285" stroke-width="2.2"/>
<line x1="1803.3" y1="1354.6" x2="1815.9" y2="1354.6" stroke="#808285" stroke-width="2.2"/>
<text transform="translate(1637.8 1367.8) rotate(0.03) scale(0.97 1.02)" font-size="29" text-anchor="end" class="tk">0</text>
<text transform="translate(1637.8 1303.12) rotate(0.03) scale(0.97 1.02)" font-size="29" text-anchor="end" class="tk">20</text>
<text transform="translate(1637.8 1238.45) rotate(0.03) scale(0.97 1.02)" font-size="29" text-anchor="end" class="tk">40</text>
<text transform="translate(1637.8 1173.78) rotate(0.03) scale(0.97 1.02)" font-size="29" text-anchor="end" class="tk">60</text>
<text transform="translate(1637.8 1109.1) rotate(0.03) scale(0.97 1.02)" font-size="29" text-anchor="end" class="tk">80</text>
<text transform="translate(1538 1228) rotate(-89.97) scale(1.01 1.05)" font-size="34" text-anchor="middle">TNF<tspan class="al" font-size="42.5">α</tspan> mRNA</text>
<text transform="translate(1579 1230.3) rotate(-89.97) scale(1 1.05)" font-size="34" text-anchor="middle">expression</text>
<text transform="translate(1592.1 1410.7) rotate(0.03) scale(1 1.05)" font-size="34">LPS</text>
<text transform="translate(1693.3 1397.8) rotate(0.03) scale(1 1.05)" font-size="33" class="pm">-</text>
<text transform="translate(1747.9 1396.9) rotate(0.03) scale(1 1.05)" font-size="33" class="pm">+</text>
<text transform="translate(1806.3 1397.8) rotate(0.03) scale(1 1.05)" font-size="33" class="pm">-</text>
<text transform="translate(1864.5 1396.9) rotate(0.03) scale(1 1.05)" font-size="33" class="pm">+</text>
<line x1="1673.4" y1="1415.3" x2="1772" y2="1415.3" stroke="#231f20" stroke-width="2"/>
<line x1="1795.4" y1="1415.3" x2="1894" y2="1415.3" stroke="#231f20" stroke-width="2"/>
<text transform="translate(1683.4 1458.9) rotate(0.03) scale(1 1.05)" font-size="34">Water</text>
<text transform="translate(1791 1460.3) rotate(0.03) scale(1 1.05)" font-size="34">Coffee</text>
</g>
</svg>
</body></html>
